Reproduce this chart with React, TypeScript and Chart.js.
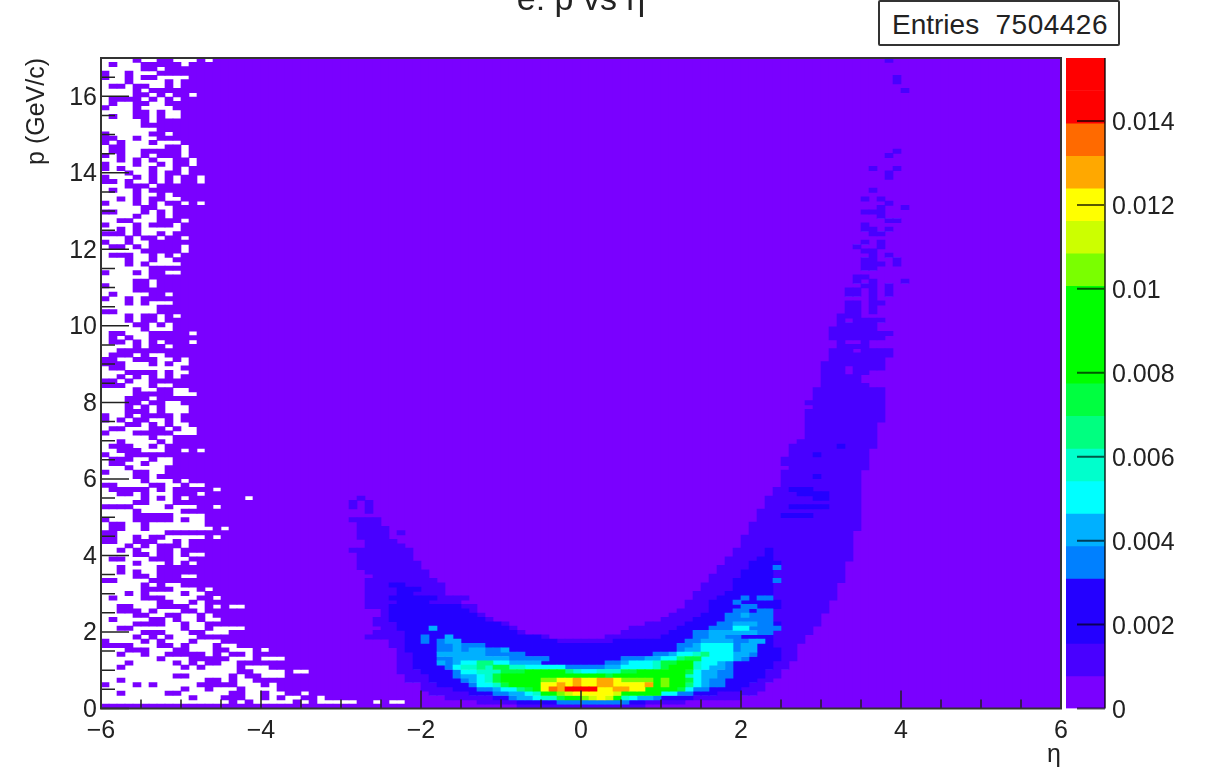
import React, { useEffect, useRef } from "react";
import { Chart, registerables } from "chart.js";

Chart.register(...registerables);

const FONT = "'Liberation Sans', Arial, sans-serif";
const INK = "#222222";

const palette = ["#7a00ff", "#4800ff", "#2400ff", "#0080ff", "#00b0ff", "#00ffff", "#00ffcc", "#00ff80", "#00ff40", "#00ff00", "#7aff00", "#ccff00", "#ffff00", "#ffa800", "#ff6a00", "#ff0000"];
const legendBands = [0, 1, 2, 2, 3, 4, 5, 6, 7, 8, 9, 9, 9, 10, 11, 12, 13, 14, 15, 15];
const legendMax = 0.0155;

const xMajor = [-6, -4, -2, 0, 2, 4, 6];
const xMinor = [-5.5, -5, -4.5, -3.5, -3, -2.5, -1.5, -1, -0.5, 0.5, 1, 1.5, 2.5, 3, 3.5, 4.5, 5, 5.5];
const yMajor = [0, 2, 4, 6, 8, 10, 12, 14, 16];
const yMinor = [0.5, 1, 1.5, 2.5, 3, 3.5, 4.5, 5, 5.5, 6.5, 7, 7.5, 8.5, 9, 9.5, 10.5, 11, 11.5, 12.5, 13, 13.5, 14.5, 15, 15.5, 16.5];
const legendTicks = [0, 0.002, 0.004, 0.006, 0.008, 0.01, 0.012, 0.014];

const colCount = 120;
const rowCount = 150;
const etaMin = -6;
const etaBin = 0.1;
const pBin = 17 / 150;

// Empty (white) bins, listed from the top row down: "#" = empty, starting at eta = -6
const emptyRows = [
  "####.##..###.#", "#.###.....#", "#####..#", ".##.###", ".##.#..####", "###.####.#", "#..#..##.#", "####.#", "####..#.#..#.", "#....#.#.#",
  "#.##..##", ".###.####", "####..#.##", "#.##..#.##", "#####.#", "#####", "#######", ".#####..#", "..##.##", ".#.###.###",
  "#..#####..#", "#..##.....#", ".#.##.#...#", "##.#.#.##..#", ".###.##.#..#", ".#.###.##.#", "###.##.#..#", ".###.#.#.#..#", "..#.##.#.#..#", "###...#",
  "#.##.#.", "####.##.#", "##.#.#..##", ".###.#.#..#.#", "#####..##", "..###.#.#", "####.##.#", "##..###...#", ".###.#...#", "##.#.#####",
  "...#.##.#.", "###.#..#..#", ".##.##..", "#..#.#....#", "#####.....#.", "#...##.#.#.", "###.##.##", "###.#.####", "######..",
  ".###.#..##", "######", "####..#", ".###..#.", "####...", "#.####..#", ".##.#...", "###.#.###", "#######", "..#####",
  "###.#..#.#", "###.#..#", "####..#.#", "#####.###", "#..###.....#", "#.#.##", "#..#.#.#...#", "####.#..#", "##...", "#...#.##",
  "..##...##.#", "...###.#.##", "#..#######", "###....#.##", "##.#.#.#.#", "..#.##.", "...###.##", "####.##..##", "####.....###", "###...#",
  "###..#..##", "###.#.#.###", "###...#.###", ".##.#....#", ".#.#..##.#", "###..#.#.##", "#..###..#.##", ".###.....###", "######.##", "##.####.#",
  "#...##.#", "##...###..#.#", ".##....", "#...##.##", "#..##.###", "###.####.", ".###..##", "####..#", "#####.###.#", "..####..##.##",
  "#.....#.#.....#", "##..#.###...#", "#####.#.#.#.......#", "####..###", "....####.###..#.", "####.#####", "####.....####", ".###.....#.##", "#..##.#######.", "#..##.########.#",
  "..######", "..##.#..#####.#", "..##...##.#", "###.#.#...#.", "##.#.##..#", "####..#..#.##", "#..###...##", "####.###.#.#", "##.####...", "##.#.##...",
  "####..#...##", "..####...", "#####.#.##", "#####....###.#", "###.#.####.##", "#.###...####..#", "#######..##.#.", "##..###....##.#.##", "##...#.###..#", "####..##..##.#",
  "#.####..#.##.##", "####....##.##", "##..######.##.####.", "#####...###..###.", "####.#.#.###..", ".####.#.###.###", "....###..#.###.##", "###...###..###..###.#", "##.##.##.....#.#..#", "#######.###.....###.###",
  "###.#####.#.#..##..", "##.#######.#.####.###.", "#################..####.##", "#########..#####.#..###", "##.##########..#.##.", ".###.#.#####.....###.#", "##########.##.###.####..", "##.#####..######..##.##..#", "###########.###...##.#.##..#", "################.#.#####.#.#####..#.##",
];

// Faint bins (second colour): [row from p = 0, first column, last column]
const faintRuns = [
  [0,52,67],[1,47,72],[2,43,79],[3,41,81],[4,40,82],[5,40,82],[6,38,83],[7,38,84],[8,37,84],[9,37,85],[10,37,85],[11,37,86],[12,37,86],[13,37,86],[14,36,86],[15,36,87],
  [16,33,55],[16,63,87],[17,34,52],[17,65,88],[18,35,51],[18,66,88],[19,34,50],[19,68,89],[20,34,48],[20,70,89],[21,35,47],[21,71,89],[22,35,46],[22,72,90],[23,33,46],[23,73,90],
  [24,33,44],[24,73,90],[25,33,45],[25,74,91],[26,33,42],[26,74,91],[27,33,42],[27,75,91],[28,33,42],[28,75,91],[29,33,41],[29,76,92],[30,34,40],[30,76,92],[31,33,40],[31,77,92],
  [32,32,39],[32,77,92],[33,32,39],[33,78,92],[34,32,38],[34,78,93],[35,32,38],[35,79,93],[36,31,38],[36,79,93],[37,33,37],[37,80,93],[38,33,36],[38,80,93],[39,32,35],[39,80,93],
  [40,32,35],[40,37,37],[40,81,93],[41,32,35],[41,81,94],[42,32,34],[42,81,94],[43,31,34],[43,82,94],[44,82,94],[45,33,33],[45,82,94],[46,31,31],[46,33,33],[46,83,94],[47,31,31],[47,33,33],[47,83,94],
  [48,32,32],[48,83,94],[49,84,94],[50,84,94],[51,85,94],[52,85,94],[53,85,94],[54,85,94],[55,86,95],[56,85,95],[57,85,95],[58,86,95],[59,86,95],[60,86,96],[61,87,96],[62,88,96],
  [63,88,96],[64,88,96],[65,88,96],[66,88,97],[67,88,97],[68,88,97],[69,89,97],[70,88,97],[71,89,97],[72,89,97],[73,89,97],[74,90,95],[75,90,94],[76,90,94],[77,90,92],[77,94,95],
  [78,90,92],[78,94,97],[79,90,97],[80,91,97],[81,91,98],[82,91,93],[82,95,98],[83,92,95],[84,92,92],[84,95,95],[85,91,97],[86,91,98],[87,91,96],[88,92,96],[89,92,92],[89,94,97],
  [90,92,94],[91,93,94],[91,96,96],[92,93,94],[92,96,96],[93,93,94],[93,96,97],[94,96,96],[95,93,94],[95,96,96],[95,98,98],[96,93,94],[96,96,96],[96,98,98],[97,95,96],[97,98,98],
  [98,94,94],[98,96,96],[98,100,100],[99,94,95],[101,95,96],[102,95,97],[102,99,99],[103,95,96],[103,99,99],[104,96,96],[104,98,98],[105,95,96],[106,94,94],[106,97,97],[107,95,95],[107,97,97],
  [109,96,97],[110,95,96],[110,98,98],[111,95,95],[112,98,99],[113,97,97],[114,95,97],[115,97,97],[115,100,100],[116,98,98],[117,95,95],[117,97,97],[119,96,96],[122,98,98],[123,98,98],
  [124,96,96],[124,99,99],[127,98,98],[128,99,99],[142,100,100],[144,99,99],[145,99,99],[149,98,98],
];

// Deeper blue bins (third colour): [row, first column, last column]
const deepRuns = [
  [1,52,67],[2,49,73],[3,46,76],[4,44,79],[5,42,80],[6,41,81],[7,41,82],[8,40,82],[9,39,83],[10,39,83],[11,39,84],[12,39,84],[13,38,84],[14,38,83],[15,38,56],[15,64,83],
  [16,38,54],[16,70,83],[17,38,51],[17,71,83],[18,37,50],[18,72,84],[19,37,49],[19,73,84],[20,36,47],[20,74,83],[21,36,46],[21,75,83],[22,36,45],[22,76,83],[23,36,44],[23,76,84],
  [24,37,40],[24,76,84],[25,36,41],[25,77,83],[26,37,38],[26,78,83],[27,37,39],[27,79,83],[28,36,37],[28,79,83],[29,79,84],[30,80,83],[31,80,83],[32,81,83],[33,81,84],[34,82,83],
  [35,83,83],[36,83,83],[44,85,88],[46,86,90],[48,89,90],[49,87,90],[50,86,88],[53,89,89],[58,89,89],[60,92,92],
];

// Bright bins near the ridge: [row, first column, colour codes, one character per column]
const ridgeRows = [
  [1,57,"333333333"],
  [2,51,"344566899abcb965443"],
  [3,49,"33445699abcccccb9999955" + "33"],
  [4,47,"33455789cedffffccddcc99998533"],
  [5,46,"355689999ccdcdccddccccd9a9975433"],
  [6,45,"3456899999aaccdccddcaaaa9a9985433"],
  [7,44,"34456899999999999998999999999654433"],
  [8,44,"35566688899999" + "7655" + "66688" + "999999854433"],
  [9,43,"35667688" + "6655555" + "33333" + "445555" + "68999" + "65443"],
  [10,42,"434557755" + "4444" + "22222222" + "334555" + "68899" + "65543"],
  [11,42,"33" + "4444444" + "33333" + "222222222" + "333" + "44" + "55" + "788" + "5555" + "43"],
  [12,42,"444444" + "33333" + "2222222222222222" + "334" + "55" + "67" + "555" + "443"],
  [13,42,"334344334" + "222222222222222222222" + "3445555" + "344"],
  [14,42,"334333"],
  [14,72,"3345555344"],
  [15,40,"3"],
  [15,42,"344"],
  [15,73,"3344443344"],
  [16,40,"3"],
  [16,43,"4"],
  [16,74,"334433"],
  [17,74,"3344444433"],
  [18,41,"4"],
  [18,76,"333553333"],
  [19,77,"3344433"],
  [20,78,"333333"],
  [21,78,"334333"],
  [22,79,"33233"],
  [23,80,"33"],
  [24,79,"3"],
  [25,80,"3"],
  [25,82,"33"],
  [29,84,"3"],
  [32,84,"3"],
];

const LEVEL_CODES = "0123456789abcdef";

function buildHeatmapDatasets() {
  const grid = [];
  for (let r = 0; r < rowCount; r++) grid.push(new Array(colCount).fill(0));
  const put = (r, c, v) => {
    if (r >= 0 && r < rowCount && c >= 0 && c < colCount) grid[r][c] = v;
  };
  faintRuns.forEach(([r, a, b]) => { for (let c = a; c <= b; c++) put(r, c, 1); });
  deepRuns.forEach(([r, a, b]) => { for (let c = a; c <= b; c++) put(r, c, 2); });
  ridgeRows.forEach(([r, start, codes]) => {
    for (let i = 0; i < codes.length; i++) put(r, start + i, LEVEL_CODES.indexOf(codes[i]));
  });
  emptyRows.forEach((row, t) => {
    for (let i = 0; i < row.length; i++) if (row[i] === "#") put(rowCount - 1 - t, i, -1);
  });
  const byLevel = palette.map(() => []);
  for (let c = 0; c < colCount; c++) {
    let r = 0;
    while (r < rowCount) {
      const v = grid[r][c];
      let e = r + 1;
      while (e < rowCount && grid[e][c] === v) e++;
      if (v >= 0) byLevel[v].push({ x: etaMin + (c + 0.5) * etaBin, y: [r * pBin, e * pBin] });
      r = e;
    }
  }
  return byLevel
    .map((data, i) => ({ label: "level " + i, data, backgroundColor: palette[i], barThickness: 8, grouped: false, borderWidth: 0 }))
    .reverse();
}

const frameAndTicks = {
  id: "frameAndTicks",
  afterDatasetsDraw(chart) {
    const { ctx, chartArea: a, scales } = chart;
    ctx.save();
    ctx.strokeStyle = INK;
    ctx.lineWidth = 1.5;
    ctx.beginPath();
    const xTick = (v, len) => { const p = scales.x.getPixelForValue(v); ctx.moveTo(p, a.bottom); ctx.lineTo(p, a.bottom - len); };
    const yTick = (v, len) => { const p = scales.y.getPixelForValue(v); ctx.moveTo(a.left, p); ctx.lineTo(a.left + len, p); };
    xMajor.forEach((v) => xTick(v, 18));
    xMinor.forEach((v) => xTick(v, 9));
    yMajor.forEach((v) => yTick(v, 28));
    yMinor.forEach((v) => yTick(v, 14));
    ctx.stroke();
    ctx.lineWidth = 2;
    ctx.strokeStyle = "#333";
    ctx.strokeRect(a.left, a.top, a.right - a.left, a.bottom - a.top);
    ctx.restore();
  },
};

const legendFrame = {
  id: "legendFrame",
  afterDatasetsDraw(chart) {
    const { ctx, chartArea: a, scales } = chart;
    ctx.save();
    ctx.strokeStyle = "rgba(0,0,0,0.65)";
    ctx.lineWidth = 2;
    ctx.beginPath();
    ctx.moveTo(a.right, a.top);
    ctx.lineTo(a.right, a.bottom);
    legendTicks.forEach((v) => {
      const p = scales.y.getPixelForValue(v);
      ctx.moveTo(a.right, p);
      ctx.lineTo(a.right - 28, p);
    });
    ctx.stroke();
    ctx.restore();
  },
};

export default function App() {
  const mainRef = useRef(null);
  const legendRef = useRef(null);

  useEffect(() => {
    const tickFont = { family: FONT, size: 25 };
    const main = new Chart(mainRef.current, {
      type: "bar",
      data: { datasets: buildHeatmapDatasets() },
      options: {
        responsive: false,
        animation: false,
        devicePixelRatio: 1,
        events: [],
        layout: { padding: { left: 0, right: 145, top: 0, bottom: 0 } },
        plugins: {
          legend: { display: false },
          tooltip: { enabled: false },
          title: {
            display: true,
            text: "e: p vs \u03b7",
            fullSize: false,
            color: INK,
            font: { family: FONT, size: 34, weight: "normal" },
            padding: { top: 10.6, bottom: 36.6 },
          },
        },
        scales: {
          x: {
            type: "linear",
            min: -6,
            max: 6,
            offset: false,
            grid: { display: false, drawTicks: false },
            border: { display: false },
            afterFit: (s) => { s.height = 78.5; },
            ticks: {
              stepSize: 2,
              includeBounds: false,
              maxRotation: 0,
              padding: 8,
              color: INK,
              font: tickFont,
              callback: (v) => (v < 0 ? "\u2212" + Math.abs(v) : String(v)),
            },
            title: { display: true, text: "\u03b7", align: "end", color: INK, font: { family: FONT, size: 25 }, padding: { top: 0, bottom: 16.6 } },
          },
          y: {
            type: "linear",
            min: 0,
            max: 17,
            grid: { display: false, drawTicks: false },
            border: { display: false },
            afterFit: (s) => { s.width = 101; },
            ticks: { stepSize: 2, includeBounds: false, padding: 4, labelOffset: 1.5, color: INK, font: tickFont },
            title: { display: true, text: "p (GeV/c)", align: "end", color: INK, font: { family: FONT, size: 25 }, padding: { top: 22.6, bottom: 0 } },
          },
        },
      },
      plugins: [frameAndTicks],
    });

    const legend = new Chart(legendRef.current, {
      type: "bar",
      data: {
        datasets: [
          {
            label: "scale",
            data: legendBands.map((_, i) => ({ x: 0, y: [(i * legendMax) / legendBands.length, ((i + 1) * legendMax) / legendBands.length] })),
            backgroundColor: legendBands.map((l) => palette[l]),
            barThickness: 39,
            grouped: false,
            borderWidth: 0,
          },
        ],
      },
      options: {
        responsive: false,
        animation: false,
        devicePixelRatio: 1,
        events: [],
        layout: { padding: { left: 1066, right: 0, top: 58, bottom: 58.5 } },
        plugins: { legend: { display: false }, tooltip: { enabled: false } },
        scales: {
          x: { type: "linear", min: -1, max: 1, display: false, offset: false },
          y: {
            type: "linear",
            position: "right",
            min: 0,
            max: legendMax,
            grid: { display: false, drawTicks: false },
            border: { display: false },
            afterFit: (s) => { s.width = 101; },
            ticks: {
              stepSize: 0.002,
              includeBounds: false,
              padding: 7,
              labelOffset: 2.5,
              color: INK,
              font: tickFont,
              callback: (v) => String(Number(Number(v).toFixed(3))),
            },
          },
        },
      },
      plugins: [legendFrame],
    });

    return () => {
      main.destroy();
      legend.destroy();
    };
  }, []);

  return (
    <div style={{ position: "fixed", left: 0, top: 0, width: 1206, height: 767, overflow: "hidden", background: "#fff", filter: "blur(0.5px)" }}>
      <canvas ref={mainRef} width={1206} height={817} style={{ position: "absolute", left: 0, top: -30, width: 1206, height: 817 }} />
      <canvas ref={legendRef} width={1206} height={767} style={{ position: "absolute", left: 0, top: 0, width: 1206, height: 767 }} />
      <div
        style={{
          position: "absolute",
          left: 878,
          top: 0,
          width: 242,
          height: 46,
          boxSizing: "border-box",
          border: "2px solid #333",
          borderRadius: 2,
          background: "#fff",
          color: INK,
          fontFamily: FONT,
          fontSize: 28,
          display: "flex",
          alignItems: "center",
          justifyContent: "space-between",
          padding: "3px 10px 0 12px",
        }}
      >
        <span>Entries</span>
        <span style={{ letterSpacing: 0.5 }}>7504426</span>
      </div>
    </div>
  );
}
